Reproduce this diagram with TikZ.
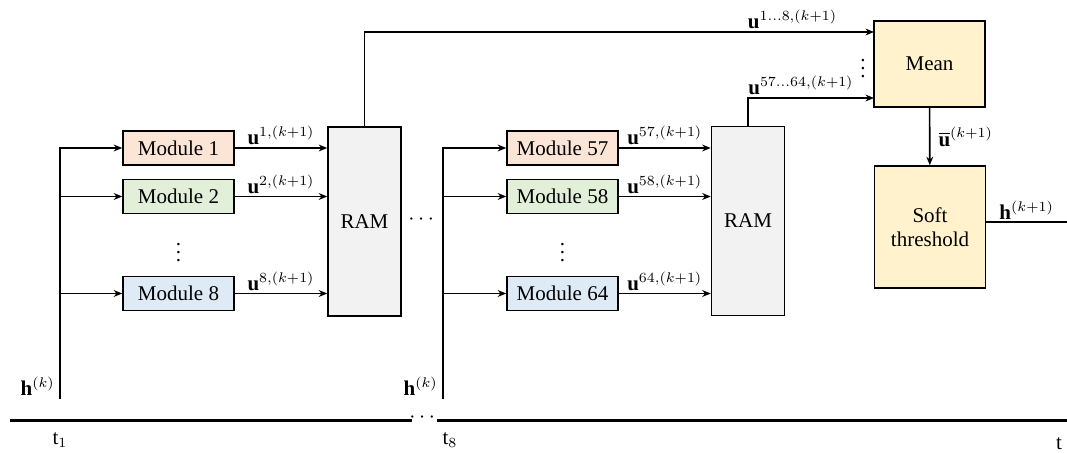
\documentclass[tikz,border=0pt]{standalone}
\usepackage{amsmath}
\usepackage{fontspec}
\setmainfont{LiberationSerif}[Extension=.ttf, UprightFont=*-Regular, BoldFont=*-Bold, ItalicFont=*-Italic, BoldItalicFont=*-BoldItalic]
\usepackage{tikz}
\usetikzlibrary{arrows.meta,positioning,calc}
\definecolor{modorange}{HTML}{FBE5D6}
\definecolor{modgreen}{HTML}{E2F0D9}
\definecolor{modblue}{HTML}{DEEBF7}
\definecolor{ramgray}{HTML}{F2F2F2}
\definecolor{meanyellow}{HTML}{FFF2CC}
\tikzset{
    module/.style={rectangle, draw, line width=0.75pt, minimum width=55.5pt, minimum height=17pt, inner sep=0pt},
    ram/.style={rectangle, draw, line width=0.75pt, fill=ramgray, minimum width=36.5pt, minimum height=94.5pt, inner sep=0pt},
    block/.style={rectangle, draw, line width=0.75pt, fill=meanyellow, minimum width=55.5pt, align=center, inner sep=0pt},
    wire/.style={draw, line width=0.8pt},
    edge/.style={draw, line width=0.8pt, -{Stealth[length=1.5mm, width=1.2mm]}},
    bus/.style={draw, line width=1pt},
    timeline/.style={draw, line width=1.5pt},
    lab/.style={inner sep=1pt},
    dots/.style={inner sep=0pt}
}

\begin{document}
\begin{tikzpicture}[x=0.5pt, y=-0.5pt, font=\fontsize{10.5}{12}\selectfont]
    \useasboundingbox (0,0) rectangle (1067,454);

    % Nodes
    \node[module, fill=modorange] (m1) at (178.5,148) {Module 1};
    \node[module, fill=modgreen] (m2) at (178.5,196.5) {Module 2};
    \node[dots] (d1) at (178.5,247) {$\vdots$};
    \node[module, fill=modblue] (m8) at (178.5,293.5) {Module 8};
    \node[ram] (ram1) at (364.5,221.5) {RAM};

    \node[dots] (gap) at (423,220) {$\cdots$};

    \node[module, fill=modorange] (m57) at (562.5,148) {Module 57};
    \node[module, fill=modgreen] (m58) at (562.5,196.5) {Module 58};
    \node[dots] (d2) at (562.5,247) {$\vdots$};
    \node[module, fill=modblue] (m64) at (562.5,293.5) {Module 64};
    \node[ram] (ram2) at (748,221) {RAM};

    \node[block, minimum height=43pt] (mean) at (929.5,64) {Mean};
    \node[dots] (d3) at (863,63) {$\vdots$};
    \node[block, minimum height=61pt] (soft) at (930,227) {Soft\\threshold};

    \node[lab, anchor=east] (hk1) at (57,386) {$\mathbf{h}^{(k)}$};
    \node[lab, anchor=east] (hk2) at (440,386) {$\mathbf{h}^{(k)}$};

    \coordinate (hin1) at (60,399);
    \coordinate (hin2) at (443,399);
    \coordinate (in1) at (874,32);
    \coordinate (in2) at (874,98);
    \coordinate (hout) at (1067,222);

    % edges
    \foreach \m in {m1,m2,m8}
        \draw[edge] (hin1) |- (\m.west);
    \foreach \m in {m57,m58,m64}
        \draw[edge] (hin2) |- (\m.west);
    \draw[bus] (hin1) -- (hin1 |- m1.west);
    \draw[bus] (hin2) -- (hin2 |- m57.west);

    \draw[edge] (m1) -- (m1 -| ram1.west) node[lab, midway, above] (u1) {$\mathbf{u}^{1,(k+1)}$};
    \draw[edge] (m2) -- (m2 -| ram1.west) node[lab, midway, above] (u2) {$\mathbf{u}^{2,(k+1)}$};
    \draw[edge] (m8) -- (m8 -| ram1.west) node[lab, midway, above] (u8) {$\mathbf{u}^{8,(k+1)}$};
    \draw[edge] (m57) -- (m57 -| ram2.west) node[lab, midway, above] (u57) {$\mathbf{u}^{57,(k+1)}$};
    \draw[edge] (m58) -- (m58 -| ram2.west) node[lab, midway, above] (u58) {$\mathbf{u}^{58,(k+1)}$};
    \draw[edge] (m64) -- (m64 -| ram2.west) node[lab, midway, above] (u64) {$\mathbf{u}^{64,(k+1)}$};

    \draw[edge] (ram1.north) |- (in1) node[lab, above, pos=0.92] (u18) {$\mathbf{u}^{1\ldots8,(k+1)}$};
    \draw[edge] (ram2.north) |- (in2) node[lab, above, pos=0.71] (u5764) {$\mathbf{u}^{57\ldots64,(k+1)}$};
    \draw[edge] (mean) -- (soft) node[lab, midway, right=3pt] (ubar) {$\overline{\mathbf{u}}^{(k+1)}$};
    \draw[wire] (soft.east |- hout) -- (hout) node[lab, midway, above] (hkp) {$\mathbf{h}^{(k+1)}$};

    % time axis
    \coordinate (ta) at (10,421);
    \coordinate (tb) at (412,421);
    \coordinate (tc) at (437,421);
    \coordinate (td) at (1067,421);
    \draw[timeline] (ta) -- (tb);
    \draw[timeline] (tc) -- (td);
    \node[dots] (tdots) at (424,418) {$\cdots$};
    \node (t1) at (60,440) {$\mathrm{t}_1$};
    \node (t8) at (450,440) {$\mathrm{t}_8$};
    \node (t) at (1059,444) {$\mathrm{t}$};
\end{tikzpicture}
\end{document}
